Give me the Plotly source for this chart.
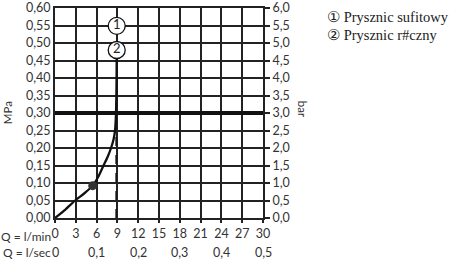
import plotly.graph_objects as go

# flow (l/min) and pressure (MPa) of the curve
curve_q = [0, 1.5, 2.9, 4.2, 5.44, 6.3, 7.0, 7.6, 8.08, 8.45, 8.66, 8.8, 8.85, 8.88, 8.9]
curve_p = [0, 0.024, 0.05, 0.07, 0.0925, 0.12, 0.15, 0.175, 0.2, 0.225, 0.25, 0.3, 0.35, 0.4, 0.47]
marker_q = [5.44]
marker_p = [0.0925]
ref_p = 0.30
dash_q = 8.8
dash_p_top = 0.25
label_q = [8.9, 8.9]
label_p = [0.549, 0.48]
label_txt = ["1", "2"]

x_ticks = [0, 3, 6, 9, 12, 15, 18, 21, 24, 27, 30]
x_ticktext = ["0", "3", "6", "9", "12", "15", "18", "21", "24", "27", "30"]
sec_pos = [0, 6, 12, 18, 24, 30]
sec_text = ["0", "0,1", "0,2", "0,3", "0,4", "0,5"]
mpa_ticks = [0, 0.05, 0.1, 0.15, 0.2, 0.25, 0.3, 0.35, 0.4, 0.45, 0.5, 0.55, 0.6]
mpa_text = ["0,00", "0,05", "0,10", "0,15", "0,20", "0,25", "0,30", "0,35", "0,40", "0,45", "0,50", "0,55", "0,60"]
bar_ticks = [0, 0.5, 1, 1.5, 2, 2.5, 3, 3.5, 4, 4.5, 5, 5.5, 6]
bar_text = ["0,0", "0,5", "1,0", "1,5", "2,0", "2,5", "3,0", "3,5", "4,0", "4,5", "5,0", "5,5", "6,0"]
legend_items = ["\u2460 Prysznic sufitowy", "\u2461 Prysznic r#czny"]

INK = "#222222"
TXT = "#333333"
FONT = "Lato"
FS = 12.5

fig = go.Figure()
fig.add_trace(go.Scatter(x=[0, 30], y=[ref_p, ref_p], mode="lines",
                         line=dict(color="#111", width=4), hoverinfo="skip"))
fig.add_trace(go.Scatter(x=[dash_q, dash_q], y=[0, dash_p_top], mode="lines",
                         line=dict(color="#111", width=1.3, dash="dash"), hoverinfo="skip"))
fig.add_trace(go.Scatter(x=curve_q, y=curve_p, mode="lines",
                         line=dict(color="#111", width=2.3, shape="spline", smoothing=0.6)))
fig.add_trace(go.Scatter(x=marker_q, y=marker_p, mode="markers",
                         marker=dict(size=9, color="#333")))
fig.add_trace(go.Scatter(x=label_q, y=label_p, mode="markers+text", text=label_txt,
                         textposition="middle center",
                         textfont=dict(family=FONT, size=13, color="#222"),
                         marker=dict(size=17, color="white", line=dict(color="#111", width=1.3))))
fig.add_trace(go.Scatter(x=[0], y=[0], yaxis="y2", mode="markers",
                         marker=dict(opacity=0), hoverinfo="skip"))

fig.update_layout(
    width=450, height=260,
    margin=dict(l=55, r=187, t=8, b=42),
    paper_bgcolor="white", plot_bgcolor="white",
    showlegend=False,
    font=dict(family=FONT, size=FS, color=TXT),
    xaxis=dict(range=[0, 30], tickvals=x_ticks, ticktext=x_ticktext,
               showgrid=True, gridcolor=INK, gridwidth=1.5,
               showline=True, linecolor=INK, linewidth=2, mirror=True,
               ticks="outside", ticklen=3, tickcolor=INK, tickwidth=1.5,
               ticklabelstandoff=0, zeroline=False, automargin=False),
    yaxis=dict(range=[0, 0.6], tickvals=mpa_ticks, ticktext=mpa_text,
               showgrid=True, gridcolor=INK, gridwidth=1.5,
               showline=True, linecolor=INK, linewidth=2,
               ticks="", ticklabelstandoff=0,
               zeroline=False, automargin=False),
    yaxis2=dict(range=[0, 6], tickvals=bar_ticks, ticktext=bar_text,
                overlaying="y", side="right", showgrid=False,
                showline=True, linecolor=INK, linewidth=2,
                ticks="outside", ticklen=5, tickcolor=INK, tickwidth=1.5,
                zeroline=False, automargin=False),
)

ann = []
ann.append(dict(text="Q = l/min", xref="paper", yref="paper", x=-0.012, y=-0.044,
                xanchor="right", yanchor="top", showarrow=False,
                font=dict(family=FONT, size=12, color=TXT)))
ann.append(dict(text="Q = l/sec", xref="paper", yref="paper", x=-0.012, y=-0.118,
                xanchor="right", yanchor="top", showarrow=False,
                font=dict(family=FONT, size=12, color=TXT)))
for p, t in zip(sec_pos, sec_text):
    ann.append(dict(text=t, xref="x", yref="paper", x=p, y=-0.118,
                    xanchor="center", yanchor="top", showarrow=False,
                    font=dict(family=FONT, size=FS, color=TXT)))
ann.append(dict(text="MPa", xref="paper", yref="paper", x=-0.23, y=0.5,
                xanchor="center", yanchor="middle", textangle=-90, showarrow=False,
                font=dict(family=FONT, size=11.5, color=TXT)))
ann.append(dict(text="bar", xref="paper", yref="paper", x=1.1875, y=0.52,
                xanchor="center", yanchor="middle", textangle=90, showarrow=False,
                font=dict(family=FONT, size=11.5, color=TXT)))
for i, t in enumerate(legend_items):
    ann.append(dict(text=t, xref="paper", yref="paper", x=1.3, y=0.955 - i * 0.085,
                    xanchor="left", yanchor="middle", showarrow=False,
                    font=dict(family="Liberation Serif", size=14.5, color="#222")))
fig.update_layout(annotations=ann)

fig.write_html("out.html")
